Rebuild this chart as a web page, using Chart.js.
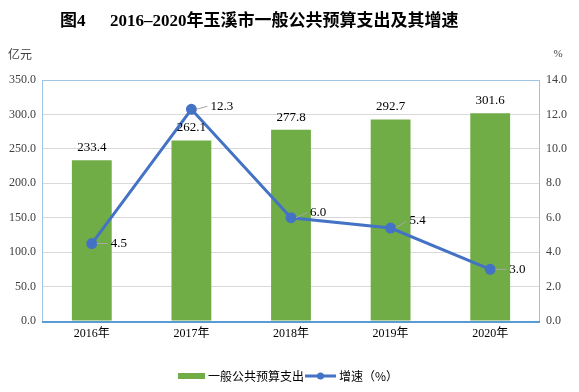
<!DOCTYPE html>
<html>
<head>
<meta charset="utf-8">
<script src="https://cdn.jsdelivr.net/npm/chart.js@4.4.0/dist/chart.umd.min.js"></script>
<style>
  html, body { margin: 0; padding: 0; background: #fff; }
  #wrap { width: 579px; height: 392px; }
</style>
</head>
<body>
<div id="wrap"><canvas id="chart" width="579" height="392"></canvas></div>
<script>
// data
const years = ['2016年', '2017年', '2018年', '2019年', '2020年'];
const spending = [233.4, 262.1, 277.8, 292.7, 301.6];
const growth = [4.5, 12.3, 6.0, 5.4, 3.0];
const spendLabel = '一般公共预算支出';
const growthLabel = '增速（%）';

const serif = '"Liberation Serif", "Times New Roman", "Noto Sans CJK SC", serif';
const cjk = '"Noto Sans CJK SC", sans-serif';

// title, units, legend, labels
const extras = {
    id: 'extras',
    afterDraw(chart) {
        const ctx = chart.ctx;
        const area = chart.chartArea;
        ctx.save();

        // title
        ctx.fillStyle = '#000';
        ctx.textBaseline = 'middle';
        ctx.textAlign = 'left';
        ctx.font = 'bold 17px "Liberation Serif", "Noto Sans CJK SC", serif';
        ctx.fillText('图4', 60, 22);
        ctx.fillText('2016–2020年玉溪市一般公共预算支出及其增速', 110, 22);

        // units
        ctx.font = '12px ' + cjk;
        ctx.fillStyle = '#404040';
        ctx.fillText('亿元', 8, 54);
        ctx.textAlign = 'center';
        ctx.font = '11px ' + serif;
        ctx.fillText('%', 558, 54);

        // plot border
        ctx.strokeStyle = '#9DC3E6';
        ctx.lineWidth = 1;
        ctx.strokeRect(area.left + 0.5, area.top + 0.5, area.right - area.left - 1, area.bottom - area.top);
        ctx.strokeStyle = '#5B9BD5';
        ctx.lineWidth = 2;
        ctx.beginPath();
        ctx.moveTo(area.left, area.bottom + 1);
        ctx.lineTo(area.right, area.bottom + 1);
        ctx.stroke();

        // bar labels
        ctx.font = '13px ' + serif;
        ctx.fillStyle = '#000';
        ctx.textAlign = 'center';
        ctx.textBaseline = 'bottom';
        chart.getDatasetMeta(1).data.forEach((bar, i) => {
            ctx.fillText(spending[i].toFixed(1), bar.x, bar.y - 6);
        });

        // line labels with leader lines
        ctx.textAlign = 'left';
        ctx.textBaseline = 'middle';
        chart.getDatasetMeta(0).data.forEach((pt, i) => {
            const dy = [0, -3, -5, -7, 0][i];
            ctx.strokeStyle = '#A6A6A6';
            ctx.lineWidth = 1;
            ctx.beginPath();
            ctx.moveTo(pt.x + 5, pt.y);
            ctx.lineTo(pt.x + 16, pt.y + dy);
            ctx.stroke();
            ctx.fillText(growth[i].toFixed(1), pt.x + 19, pt.y + dy);
        });

        // legend
        ctx.fillStyle = '#70AD47';
        ctx.fillRect(178, 373, 27, 6);
        ctx.fillStyle = '#000';
        ctx.font = '12px ' + cjk;
        ctx.fillText(spendLabel, 208, 376);
        ctx.strokeStyle = '#4472C4';
        ctx.lineWidth = 3;
        ctx.beginPath();
        ctx.moveTo(305, 376);
        ctx.lineTo(336, 376);
        ctx.stroke();
        ctx.fillStyle = '#4472C4';
        ctx.beginPath();
        ctx.arc(320.5, 376, 3.5, 0, Math.PI * 2);
        ctx.fill();
        ctx.fillStyle = '#000';
        ctx.fillText(growthLabel, 339, 376);

        ctx.restore();
    }
};

new Chart(document.getElementById('chart'), {
    type: 'bar',
    data: {
        labels: years,
        datasets: [{
            type: 'line',
            label: growthLabel,
            data: growth,
            yAxisID: 'y1',
            borderColor: '#4472C4',
            backgroundColor: '#4472C4',
            borderWidth: 3,
            pointRadius: 4,
            pointBackgroundColor: '#4472C4',
            tension: 0,
            order: 0
        }, {
            label: spendLabel,
            data: spending,
            yAxisID: 'y',
            backgroundColor: '#70AD47',
            categoryPercentage: 1,
            barPercentage: 0.4,
            order: 1
        }]
    },
    options: {
        responsive: false,
        animation: false,
        layout: { padding: { top: 80, bottom: 0, left: 0, right: 0 } },
        plugins: {
            legend: { display: false },
            title: { display: false },
            tooltip: { enabled: false }
        },
        scales: {
            x: {
                grid: { display: false, drawTicks: false },
                border: { display: false },
                ticks: { color: '#000', font: { family: serif, size: 12 }, padding: 6 },
                afterFit(s) { s.height = 71; }
            },
            y: {
                position: 'left',
                min: 0, max: 350,
                ticks: { stepSize: 50, color: '#404040', font: { family: serif, size: 12 }, padding: 6,
                    callback: v => v.toFixed(1) },
                grid: { color: '#D9D9D9', drawTicks: false },
                border: { display: false },
                afterFit(s) { s.width = 42; }
            },
            y1: {
                position: 'right',
                min: 0, max: 14,
                ticks: { stepSize: 2, color: '#404040', font: { family: serif, size: 12 }, padding: 6,
                    callback: v => v.toFixed(1) },
                grid: { display: false, drawTicks: false },
                border: { display: false },
                afterFit(s) { s.width = 39; }
            }
        }
    },
    plugins: [extras]
});
</script>
</body>
</html>
